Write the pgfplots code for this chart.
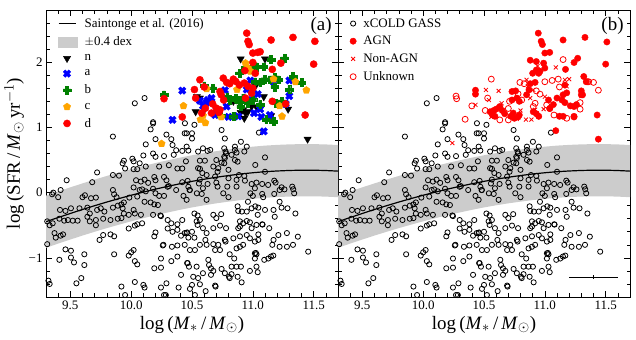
\documentclass[border=0pt]{standalone}
\usepackage{fontspec}
\setmainfont{Liberation Serif}
\usepackage{pgfplots}
\pgfplotsset{compat=1.18}
\usepackage{pgfplotstable}
\usepgfplotslibrary{fillbetween}
\usetikzlibrary{plotmarks}

\definecolor{bandgray}{HTML}{CCCCCC}
\definecolor{cblue}{HTML}{0000FF}
\definecolor{cgreen}{HTML}{008000}
\definecolor{corange}{HTML}{FFA500}
\definecolor{cred}{HTML}{FF0000}

% filled plus and filled x marks
\pgfdeclareplotmark{fatplus}{%
  \pgfpathmoveto{\pgfpoint{-0.36\pgfplotmarksize}{\pgfplotmarksize}}%
  \pgfpathlineto{\pgfpoint{0.36\pgfplotmarksize}{\pgfplotmarksize}}%
  \pgfpathlineto{\pgfpoint{0.36\pgfplotmarksize}{0.36\pgfplotmarksize}}%
  \pgfpathlineto{\pgfpoint{\pgfplotmarksize}{0.36\pgfplotmarksize}}%
  \pgfpathlineto{\pgfpoint{\pgfplotmarksize}{-0.36\pgfplotmarksize}}%
  \pgfpathlineto{\pgfpoint{0.36\pgfplotmarksize}{-0.36\pgfplotmarksize}}%
  \pgfpathlineto{\pgfpoint{0.36\pgfplotmarksize}{-\pgfplotmarksize}}%
  \pgfpathlineto{\pgfpoint{-0.36\pgfplotmarksize}{-\pgfplotmarksize}}%
  \pgfpathlineto{\pgfpoint{-0.36\pgfplotmarksize}{-0.36\pgfplotmarksize}}%
  \pgfpathlineto{\pgfpoint{-\pgfplotmarksize}{-0.36\pgfplotmarksize}}%
  \pgfpathlineto{\pgfpoint{-\pgfplotmarksize}{0.36\pgfplotmarksize}}%
  \pgfpathlineto{\pgfpoint{-0.36\pgfplotmarksize}{0.36\pgfplotmarksize}}%
  \pgfpathclose
  \pgfusepathqfillstroke}
\pgfdeclareplotmark{fatx}{\pgftransformrotate{45}\pgfuseplotmark{fatplus}}

% Saintonge et al. (2016) main sequence, +-0.4 dex
\pgfplotstableread{
x y up lo
9.3 -0.446 -0.046 -0.846
9.4 -0.381 0.019 -0.781
9.5 -0.319 0.081 -0.719
9.6 -0.258 0.142 -0.658
9.7 -0.200 0.200 -0.600
9.8 -0.144 0.256 -0.544
9.9 -0.091 0.309 -0.491
10.0 -0.040 0.360 -0.440
10.1 0.008 0.408 -0.392
10.2 0.054 0.454 -0.346
10.3 0.096 0.496 -0.304
10.4 0.136 0.536 -0.264
10.5 0.173 0.573 -0.227
10.6 0.206 0.606 -0.194
10.7 0.236 0.636 -0.164
10.8 0.262 0.662 -0.138
10.9 0.286 0.686 -0.114
11.0 0.305 0.705 -0.095
11.1 0.321 0.721 -0.079
11.2 0.332 0.732 -0.068
11.3 0.340 0.740 -0.060
11.4 0.344 0.744 -0.056
11.5 0.344 0.744 -0.056
11.6 0.339 0.739 -0.061
11.7 0.330 0.730 -0.070
}\ms

% xCOLD GASS
\pgfplotstableread{
x y
10.11 1.45
10.03 1.37
10.18 1.08
10.18 1.06
10.16 0.97
9.85 0.86
10.29 0.89
10.33 0.82
10.20 0.82
10.34 0.73
10.12 0.74
10.37 0.65
10.42 0.64
10.44 0.91
10.10 0.57
10.18 0.60
10.20 0.55
10.27 0.56
10.35 0.58
9.94 0.49
9.93 0.45
10.01 0.52
10.02 0.48
10.07 0.45
9.95 0.37
10.02 0.36
10.05 0.36
9.72 0.31
9.85 0.27
9.90 0.26
10.12 0.40
10.23 0.40
10.31 0.42
10.38 0.37
10.42 0.37
10.45 0.48
9.47 0.19
9.68 0.16
10.04 0.19
10.08 0.17
10.11 0.20
10.14 0.15
10.19 0.24
10.20 0.19
10.27 0.24
10.29 0.19
10.42 0.16
9.42 0.04
9.36 0.00
9.35 -0.025
9.40 -0.07
9.62 -0.04
9.60 -0.07
9.85 0.04
9.86 -0.025
9.88 -0.07
10.02 0.08
10.07 0.04
10.09 0.05
10.12 0.02
10.18 0.06
10.20 -0.01
10.23 -0.05
10.27 -0.05
10.30 0.09
10.31 0.10
10.37 0.04
10.43 -0.05
10.48 0.04
9.67 -0.086
9.71 -0.076
9.985 -0.076
10.05 -0.06
9.415 -0.265
9.46 -0.28
9.505 -0.24
9.575 -0.24
9.64 -0.23
9.66 -0.32
9.72 -0.265
9.75 -0.24
9.78 -0.29
9.85 -0.23
9.89 -0.20
9.92 -0.18
9.94 -0.15
9.93 -0.24
10.02 -0.265
10.11 -0.14
10.16 -0.15
10.19 -0.18
10.22 -0.19
9.31 -0.44
9.33 -0.50
9.355 -0.47
9.41 -0.40
9.45 -0.43
9.48 -0.42
9.52 -0.43
9.56 -0.43
9.64 -0.37
9.66 -0.44
9.71 -0.42
9.71 -0.50
9.77 -0.40
9.83 -0.42
9.89 -0.40
9.92 -0.39
9.94 -0.32
9.98 -0.34
10.03 -0.32
10.08 -0.34
10.18 -0.34
10.24 -0.35
10.245 -0.36
10.30 -0.42
10.33 -0.47
10.38 -0.485
10.42 -0.42
9.37 -0.62
9.38 -0.69
9.42 -0.66
9.44 -0.64
9.31 -0.79
9.77 -0.65
9.74 -0.725
9.83 -0.64
9.86 -0.67
9.98 -0.55
10.03 -0.505
10.05 -0.485
10.09 -0.47
10.20 -0.61
10.19 -0.67
10.26 -0.81
10.265 -0.80
10.30 -0.55
10.34 -0.60
10.38 -0.57
10.41 -0.66
10.44 -0.62
10.46 -0.61
10.335 -0.83
10.38 -0.81
9.41 -1.03
9.46 -0.87
9.505 -0.89
9.505 -0.995
9.53 -1.07
9.615 -0.945
9.615 -1.11
9.86 -0.945
9.98 -0.965
10.00 -0.915
10.02 -0.88
10.03 -1.05
10.05 -1.10
10.19 -1.16
10.245 -1.15
10.245 -1.01
10.33 -1.05
10.38 -0.98
10.41 -1.26
10.46 -1.08
9.32 -1.35
9.33 -1.40
9.55 -1.39
9.59 -1.31
9.92 -1.44
9.95 -1.57
10.03 -1.37
10.10 -1.415
10.11 -1.455
10.245 -1.455
10.27 -1.57
10.285 -1.57
10.29 -1.39
10.39 -1.455
10.456 -0.11
10.62 -0.11
10.96 -0.14
11.22 -0.14
10.52 -0.32
10.546 -0.35
10.538 -0.44
10.565 -0.42
10.546 -0.495
10.456 -0.62
10.47 -0.69
10.50 -0.60
10.52 -0.69
10.59 -0.545
10.62 -0.62
10.61 -0.725
10.675 -0.34
10.70 -0.39
10.675 -0.545
10.73 -0.505
10.74 -0.33
10.875 -0.21
10.88 -0.28
10.91 -0.29
10.95 -0.29
10.99 -0.24
11.02 -0.21
11.045 -0.23
11.10 -0.265
11.17 -0.265
11.04 -0.34
11.18 -0.37
11.236 -0.23
11.285 -0.24
11.35 -0.32
10.894 -0.44
10.92 -0.47
10.95 -0.435
10.976 -0.455
10.99 -0.545
11.03 -0.495
11.077 -0.485
11.08 -0.49
10.894 -0.52
10.88 -0.545
10.78 -0.545
10.84 -0.70
10.894 -0.67
10.92 -0.80
10.95 -0.65
10.976 -0.70
11.045 -0.64
11.045 -0.725
11.017 -0.75
11.135 -0.545
11.17 -0.725
11.16 -0.80
11.21 -0.65
11.28 -0.62
11.22 -0.83
11.28 -0.83
11.33 -0.80
11.37 -0.675
11.455 -0.905
10.44 -0.80
10.483 -0.88
10.524 -0.88
10.565 -0.80
10.62 -0.80
10.675 -0.79
10.69 -0.88
10.716 -0.80
10.73 -0.88
10.77 -0.725
10.776 -0.75
10.81 -0.945
10.847 -1.01
10.866 -0.855
10.894 -0.83
11.017 -0.93
11.025 -0.925
11.03 -0.945
11.017 -1.01
11.094 -1.03
11.127 -1.01
11.149 -0.98
11.168 -0.965
10.464 -1.08
10.475 -1.135
10.538 -1.135
10.634 -1.03
10.64 -1.11
10.656 -1.16
10.675 -1.20
10.743 -1.17
10.77 -1.235
10.825 -1.135
10.866 -1.135
10.902 -1.135
10.976 -1.20
11.03 -1.135
11.04 -1.22
10.51 -1.29
10.55 -1.31
10.565 -1.405
10.59 -1.235
10.656 -1.26
10.825 -1.25
10.804 -1.29
10.81 -1.31
10.875 -1.29
10.908 -1.375
10.50 -1.415
10.483 -1.475
10.524 -1.57
10.612 -1.51
10.69 -1.425
10.694 -1.44
10.442 1.064
10.52 1.04
10.456 0.91
10.50 0.91
10.50 0.83
10.77 0.83
10.47 0.645
10.456 0.705
10.55 0.63
10.59 0.68
10.628 0.64
10.65 0.655
10.743 0.96
10.765 0.68
10.776 0.63
10.78 0.60
10.765 0.55
10.77 0.53
10.853 0.705
10.853 0.655
10.866 0.614
10.902 0.78
10.95 0.705
10.93 0.63
11.05 0.92
11.10 0.54
10.565 0.49
10.606 0.49
10.55 0.375
10.565 0.365
10.585 0.30
10.62 0.27
10.675 0.40
10.70 0.50
10.716 0.375
10.71 0.32
10.743 0.46
10.765 0.45
10.80 0.35
10.853 0.50
10.875 0.475
10.825 0.58
11.02 0.425
11.10 0.32
10.464 0.18
10.47 0.09
10.483 0.04
10.565 0.20
10.557 0.14
10.59 0.067
10.54 -0.01
10.58 -0.02
10.628 0.133
10.69 0.246
10.70 0.154
10.71 0.092
10.80 0.22
10.79 0.092
10.866 0.195
10.866 0.092
10.886 0.27
10.93 0.256
10.935 0.184
10.99 0.133
11.03 0.154
11.017 0.067
11.077 0.133
11.126 0.118
11.176 0.184
11.187 0.154
11.236 0.082
11.22 0.041
11.324 0.092
11.332 0.052
11.34 -0.01
10.757 -0.01
10.80 -0.07
10.98 -0.01
11.0 -0.05
11.077 -0.02
11.085 -0.07
11.176 -0.02
11.26 0.05
}\cold

% panel (a) classes
\pgfplotstableread{
x y
10.90 2.05
11.10 2.05
10.54 1.47
10.565 1.45
10.53 1.24
10.60 1.27
10.84 1.40
10.87 1.42
10.92 1.27
10.94 1.22
10.96 1.24
10.93 1.14
10.99 1.32
11.03 1.31
10.90 1.23
11.09 1.47
11.02 1.63
11.15 1.18
11.29 1.28
11.45 0.82
}\classn
\pgfplotstableread{
x y
10.42 1.565
10.34 1.115
10.565 1.41
10.59 1.33
10.63 1.42
10.70 1.27
10.785 1.32
10.80 1.16
10.69 1.19
10.77 1.57
10.95 1.58
10.99 1.42
11.01 1.22
11.06 1.28
11.07 1.16
11.14 1.19
11.09 0.94
11.17 1.70
11.30 1.72
11.30 1.48
11.27 1.36
10.88 1.17
10.62 1.38
10.66 1.45
10.98 1.72
11.04 1.51
}\classa
\pgfplotstableread{
x y
10.27 1.50
10.89 1.83
10.94 1.92
11.00 1.93
11.01 1.88
11.03 1.93
11.15 2.04
11.09 1.93
11.26 2.06
11.33 1.78
11.40 1.69
11.02 1.70
11.06 1.69
11.10 1.74
11.14 1.73
11.18 1.77
11.21 1.73
11.18 1.62
11.30 1.58
10.86 1.45
10.89 1.40
10.92 1.45
10.96 1.37
10.90 1.32
11.00 1.42
11.06 1.35
11.11 1.12
11.17 1.09
11.19 1.37
11.24 1.40
10.60 1.64
10.67 1.60
10.84 1.17
10.74 1.18
10.79 1.47
10.81 1.42
}\classb
\pgfplotstableread{
x y
10.94 1.985
10.96 1.91
10.98 1.86
10.87 1.58
10.62 1.59
10.43 1.33
10.25 0.75
10.59 1.18
10.61 1.07
10.74 1.16
11.17 1.74
11.35 1.70
11.44 1.57
11.24 1.17
11.22 1.33
10.57 1.12
}\classc
\pgfplotstableread{
x y
10.95 2.445
10.96 2.32
10.97 2.27
11.15 2.34
11.33 2.38
11.51 2.32
11.50 1.97
11.43 1.19
11.00 2.14
11.04 2.15
11.06 2.16
11.00 1.995
10.935 1.87
11.02 1.83
11.16 1.89
11.23 1.985
10.565 1.73
10.52 1.58
10.60 1.62
10.757 1.755
10.785 1.69
10.81 1.67
10.84 1.74
10.86 1.705
10.89 1.65
10.93 1.68
10.96 1.63
11.00 1.60
10.99 1.525
10.73 1.55
10.74 1.50
10.76 1.42
10.67 1.36
10.70 1.295
10.73 1.27
10.66 1.22
10.72 1.23
10.42 1.16
10.27 1.44
10.53 1.45
10.94 1.45
11.16 1.40
11.27 1.36
10.61 1.295
10.58 1.22
}\classd

% panel (b) classes
\pgfplotstableread{
x y
10.946 2.445
10.97 2.32
10.98 2.27
11.15 2.34
11.33 2.38
11.51 2.31
11.50 1.97
11.00 2.14
11.04 2.15
10.88 2.03
10.93 2.01
10.99 1.985
11.00 1.91
10.96 1.86
10.93 1.88
10.90 1.83
10.95 1.83
11.17 1.89
11.24 1.995
11.27 2.06
11.32 1.78
11.34 1.70
11.165 1.65
11.18 1.53
11.15 1.50
11.30 1.56
11.30 1.50
10.43 1.57
10.43 1.51
10.73 1.55
10.76 1.56
10.77 1.45
10.79 1.40
10.73 1.42
10.88 1.67
10.92 1.69
10.87 1.575
10.85 1.50
11.03 1.42
11.04 1.29
11.07 1.35
11.10 1.45
11.14 1.42
11.165 1.38
11.21 1.33
11.24 1.32
10.55 1.24
10.58 1.26
10.60 1.28
10.63 1.32
10.65 1.26
10.67 1.21
10.57 1.19
10.59 1.17
10.72 1.17
10.75 1.14
10.78 1.16
10.79 1.19
10.74 1.22
10.905 1.24
10.93 1.21
10.95 1.17
11.12 1.17
11.24 1.17
11.09 0.95
11.43 1.19
11.44 0.82
11.31 1.50
11.26 1.35
11.24 1.16
11.15 1.17
}\agn
\pgfplotstableread{
x y
10.516 1.575
10.62 1.56
10.43 1.345
10.54 1.42
10.85 1.73
10.86 1.63
10.905 1.575
10.88 1.45
10.94 1.94
10.97 1.88
11.09 1.92
11.20 1.74
11.165 1.73
11.18 1.63
10.56 1.16
10.645 1.37
10.80 1.26
10.92 1.27
10.845 1.12
10.89 1.12
10.99 1.28
11.30 1.48
10.24 0.76
10.62 1.31
10.77 1.13
11.00 1.47
11.11 1.19
}\nonagn
\pgfplotstableread{
x y
10.56 1.74
10.27 1.48
10.275 1.44
10.345 1.125
11.15 2.04
10.71 1.40
10.70 1.29
10.795 1.69
10.83 1.67
11.00 1.70
11.06 1.72
11.11 1.74
10.93 1.56
10.96 1.51
10.78 1.515
10.81 1.42
11.015 1.345
11.04 1.29
10.63 1.115
10.70 1.115
10.905 1.32
10.92 1.37
11.29 1.28
11.36 1.70
11.40 1.69
11.075 1.19
10.40 1.33
10.51 1.26
11.44 1.57
11.35 1.70
11.29 1.38
11.18 1.14
10.53 1.45
11.12 1.62
}\unknown

\pgfplotsset{
  panel/.style={
    width=292bp, height=287bp, scale only axis,
    xmin=9.3, xmax=11.7, ymin=-1.6, ymax=2.8,
    xtick={9.5,10,10.5,11,11.5},
    xticklabels={9.5,10.0,10.5,11.0,11.5},
    minor xtick={9.3,9.4,9.6,9.7,9.8,9.9,10.1,10.2,10.3,10.4,10.6,10.7,10.8,10.9,11.1,11.2,11.3,11.4,11.6,11.7},
    ytick={-1,0,1,2},
    minor ytick={-1.4,-1.2,-0.8,-0.6,-0.4,-0.2,0.2,0.4,0.6,0.8,1.2,1.4,1.6,1.8,2.2,2.4,2.6},
    tick align=inside,
    major tick length=6bp, minor tick length=3.5bp,
    every tick/.style={black, line width=0.6pt},
    axis line style={line width=0.8pt},
    tick label style={font=\fontsize{13}{15}\selectfont},
    label style={font=\fontsize{19}{22}\selectfont},
    xlabel={log\,(\textit{M}$_*$\,/\,\textit{M}$_\odot$)},
    legend style={draw=none, fill=none, at={(0.03,0.985)}, anchor=north west,
      font=\fontsize{13}{15}\selectfont, row sep=3.6bp,
      /tikz/every odd column/.append style={column sep=5bp}},
    legend cell align=left,
  },
  cold/.style={only marks, mark=o, mark size=2.6, black, line width=0.8pt},
}

\begin{document}
\begin{tikzpicture}

\begin{axis}[panel, name=a,
  yticklabels={−1,0,1,2},
  ylabel={log\,(SFR\,/\,\textit{M}$_\odot$\,yr$^{-1}$)},
  ylabel style={yshift=-2bp},
]
\addlegendimage{black, line width=1.2pt, no markers}
\addlegendentry{Saintonge et al. (2016)}
\addlegendimage{legend image code/.code={\fill[bandgray] (0bp,-5bp) rectangle (19bp,5bp);}}
\addlegendentry{$\pm$0.4 dex}
\addlegendimage{only marks, mark=triangle*, mark size=4.2, black, mark options={rotate=180}}
\addlegendentry{n}
\addlegendimage{only marks, mark=fatx, mark size=3.9, cblue}
\addlegendentry{a}
\addlegendimage{only marks, mark=fatplus, mark size=3.9, cgreen}
\addlegendentry{b}
\addlegendimage{only marks, mark=pentagon*, mark size=3.8, corange}
\addlegendentry{c}
\addlegendimage{only marks, mark=*, mark size=3.6, cred}
\addlegendentry{d}

\addplot[name path=up, draw=none, forget plot] table[x=x, y=up] {\ms};
\addplot[name path=lo, draw=none, forget plot] table[x=x, y=lo] {\ms};
\addplot[bandgray, forget plot] fill between[of=up and lo];
\addplot[cold, forget plot] table {\cold};
\addplot[black, line width=1.2pt, forget plot] table[x=x, y=y] {\ms};
\addplot[only marks, mark=triangle*, mark size=4.2, black, mark options={rotate=180}, forget plot] table {\classn};
\addplot[only marks, mark=fatx, mark size=3.9, cblue, forget plot] table {\classa};
\addplot[only marks, mark=fatplus, mark size=3.9, cgreen, forget plot] table {\classb};
\addplot[only marks, mark=pentagon*, mark size=3.8, corange, forget plot] table {\classc};
\addplot[only marks, mark=*, mark size=3.6, cred, forget plot] table {\classd};
\node[anchor=north east, font=\fontsize{19}{22}\selectfont] at (rel axis cs:0.99,0.985) {(a)};
\end{axis}

\begin{axis}[panel, name=b, at={(a.south east)}, anchor=south west,
  yticklabels={,,,},
]
\addlegendimage{only marks, mark=o, mark size=2.6, black, line width=0.8pt}
\addlegendentry{xCOLD GASS}
\addlegendimage{only marks, mark=*, mark size=3.2, cred}
\addlegendentry{AGN}
\addlegendimage{only marks, mark=x, mark size=2.8, cred, line width=0.8pt}
\addlegendentry{Non-AGN}
\addlegendimage{only marks, mark=o, mark size=3.0, cred, line width=0.8pt}
\addlegendentry{Unknown}

\addplot[name path=up, draw=none, forget plot] table[x=x, y=up] {\ms};
\addplot[name path=lo, draw=none, forget plot] table[x=x, y=lo] {\ms};
\addplot[bandgray, forget plot] fill between[of=up and lo];
\addplot[cold, forget plot] table {\cold};
\addplot[black, line width=1.2pt, forget plot] table[x=x, y=y] {\ms};
\addplot[only marks, mark=o, mark size=3.0, cred, line width=0.8pt, forget plot] table {\unknown};
\addplot[only marks, mark=x, mark size=2.8, cred, line width=0.8pt, forget plot] table {\nonagn};
\addplot[only marks, mark=*, mark size=3.2, cred, forget plot] table {\agn};
\addplot[black, line width=1.1pt, mark=|, mark size=2, forget plot,
  error bars/.cd, x dir=both, x explicit, error mark=none,
  error bar style={line width=1.1pt}]
  coordinates {(11.4,-1.3) +- (0.2,0)};
\node[anchor=north east, font=\fontsize{19}{22}\selectfont] at (rel axis cs:0.99,0.985) {(b)};
\end{axis}
\pgfresetboundingbox
\path[use as bounding box] ([xshift=-46bp,yshift=-43bp]a.south west) rectangle ([xshift=6bp,yshift=10bp]b.north east);
\end{tikzpicture}
\end{document}
